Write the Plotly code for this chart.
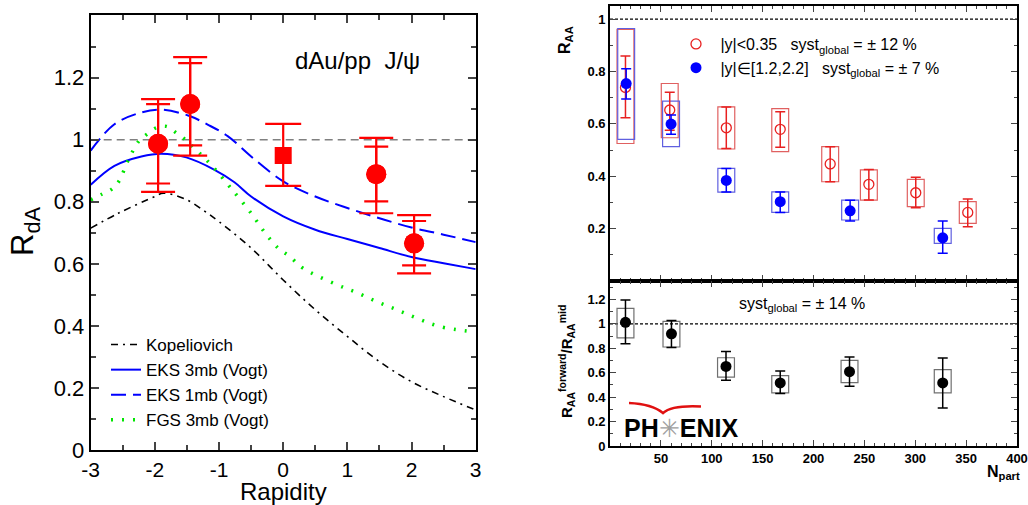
import plotly.graph_objects as go

W, H = 1028, 505
def px(x): return x / W
def py(y): return 1 - y / H

# ---------------- Left panel data (R_dA vs rapidity) ----------------
circ_y_pos = [-1.95, -1.45, 1.45, 2.04]
circ_rda = [0.987, 1.115, 0.889, 0.666]
circ_tot_hi = [1.131, 1.266, 1.006, 0.757]
circ_tot_lo = [0.832, 0.949, 0.763, 0.569]
circ_sta_hi = [1.115, 1.247, 0.978, 0.738]
circ_sta_lo = [0.859, 0.982, 0.801, 0.595]

sq_y_pos = [0.0]
sq_rda = [0.949]
sq_hi = [1.051]
sq_lo = [0.851]

kop_x = [-3, -2.57, -2.0, -1.87, -1.5, -1.22, -1.0, -0.5, 0, 0.5, 1, 1.5, 2, 2.5, 3]
kop_y = [0.715, 0.763, 0.817, 0.828, 0.806, 0.769, 0.736, 0.651, 0.548, 0.452, 0.366, 0.285, 0.220, 0.172, 0.129]

eks3_x = [-3, -2.63, -2.21, -1.9, -1.51, -1.07, -0.76, -0.5, 0, 0.5, 1, 1.5, 2, 2.5, 3]
eks3_y = [0.855, 0.916, 0.946, 0.955, 0.943, 0.903, 0.863, 0.817, 0.753, 0.710, 0.680, 0.651, 0.622, 0.602, 0.583]

eks1_x = [-3, -2.63, -2.21, -1.9, -1.48, -1.17, -0.86, -0.5, 0, 0.5, 1, 1.5, 2, 2.5, 3]
eks1_y = [0.965, 1.050, 1.088, 1.097, 1.078, 1.048, 1.011, 0.946, 0.866, 0.817, 0.780, 0.747, 0.717, 0.694, 0.670]

fgs_x = [-3, -2.82, -2.67, -2.56, -2.42, -2.24, -2.12, -1.98, -1.82, -1.68, -1.54, -1.41, -1.28,
         -1.16, -1.04, -0.8, -0.5, -0.28, -0.08, 0.1, 0.31, 0.81, 1.14, 1.46, 1.77, 2.08, 2.44, 3]
fgs_y = [0.806, 0.825, 0.841, 0.866, 0.932, 0.998, 1.018, 1.038, 1.043, 1.024, 1.003, 0.978, 0.952,
         0.927, 0.900, 0.840, 0.763, 0.699, 0.651, 0.624, 0.586, 0.535, 0.508, 0.478, 0.452, 0.425, 0.398, 0.380]

rap_ticks = [-3, -2, -1, 0, 1, 2, 3]
rap_tick_text = ["-3", "-2", "-1", "0", "1", "2", "3"]
rda_ticks = [0, 0.2, 0.4, 0.6, 0.8, 1.0, 1.2]

# ---------------- Right top panel data (R_AA vs Npart) ----------------
mid_npart = [15.2, 58.7, 114.3, 167.3, 216.4, 254.4, 300.5, 351.6]
mid_raa = [0.739, 0.653, 0.585, 0.579, 0.447, 0.369, 0.337, 0.262]
mid_err_hi = [0.859, 0.721, 0.664, 0.646, 0.513, 0.426, 0.396, 0.313]
mid_err_lo = [0.623, 0.576, 0.506, 0.511, 0.379, 0.309, 0.280, 0.207]
mid_sys_hi = [0.961, 0.754, 0.665, 0.658, 0.513, 0.424, 0.388, 0.303]
mid_sys_lo = [0.525, 0.547, 0.504, 0.494, 0.379, 0.309, 0.284, 0.220]

fwd_npart = [15.9, 60.0, 114.3, 167.3, 236.0, 327.0]
fwd_raa = [0.754, 0.599, 0.384, 0.303, 0.268, 0.165]
fwd_err_hi = [0.810, 0.634, 0.430, 0.340, 0.308, 0.229]
fwd_err_lo = [0.695, 0.560, 0.340, 0.262, 0.229, 0.106]
fwd_sys_hi = [0.964, 0.687, 0.430, 0.340, 0.309, 0.201]
fwd_sys_lo = [0.541, 0.513, 0.339, 0.262, 0.233, 0.144]

# ---------------- Right bottom panel data (ratio) ----------------
rat_npart = [15.2, 60.4, 114.0, 167.3, 235.4, 327.0]
rat_val = [1.012, 0.918, 0.651, 0.516, 0.608, 0.516]
rat_err_hi = [1.195, 1.026, 0.774, 0.613, 0.728, 0.719]
rat_err_lo = [0.836, 0.806, 0.537, 0.429, 0.489, 0.310]
rat_sys_hi = [1.126, 1.020, 0.722, 0.575, 0.700, 0.625]
rat_sys_lo = [0.885, 0.810, 0.564, 0.434, 0.518, 0.434]

npart_ticks = [50, 100, 150, 200, 250, 300, 350, 400]
raa_ticks = [0.2, 0.4, 0.6, 0.8, 1.0]
ratio_ticks = [0, 0.2, 0.4, 0.6, 0.8, 1.0, 1.2]

box_half = 8.3

RED = "#ff0000"
BLUE = "#0000ff"
GREEN = "#00e600"
FONT = "Liberation Sans, Arial, sans-serif"

fig = go.Figure()

# ---- left curves ----
fig.add_trace(go.Scatter(x=kop_x, y=kop_y, mode="lines", name="Kopeliovich",
                         line=dict(color="black", width=1.6, dash="7px,5px,2px,5px", shape="spline"),
                         xaxis="x", yaxis="y", legend="legend"))
fig.add_trace(go.Scatter(x=eks3_x, y=eks3_y, mode="lines", name="EKS 3mb (Vogt)",
                         line=dict(color=BLUE, width=2, shape="spline"),
                         xaxis="x", yaxis="y", legend="legend"))
fig.add_trace(go.Scatter(x=eks1_x, y=eks1_y, mode="lines", name="EKS 1mb (Vogt)",
                         line=dict(color=BLUE, width=2, dash="15px,7px", shape="spline"),
                         xaxis="x", yaxis="y", legend="legend"))
fig.add_trace(go.Scatter(x=fgs_x, y=fgs_y, mode="lines", name="FGS 3mb (Vogt)",
                         line=dict(color=GREEN, width=3.5, dash="2px,9px", shape="spline"),
                         xaxis="x", yaxis="y", legend="legend"))

# ---- left data points ----
fig.add_trace(go.Scatter(
    x=circ_y_pos, y=circ_rda, mode="markers", showlegend=False,
    marker=dict(symbol="circle", size=20, color=RED),
    error_y=dict(type="data", symmetric=False,
                 array=[h - v for h, v in zip(circ_tot_hi, circ_rda)],
                 arrayminus=[v - l for l, v in zip(circ_tot_lo, circ_rda)],
                 color=RED, thickness=2.2, width=17),
    xaxis="x", yaxis="y"))
fig.add_trace(go.Scatter(
    x=circ_y_pos, y=circ_rda, mode="markers", showlegend=False,
    marker=dict(symbol="circle", size=20, color=RED),
    error_y=dict(type="data", symmetric=False,
                 array=[h - v for h, v in zip(circ_sta_hi, circ_rda)],
                 arrayminus=[v - l for l, v in zip(circ_sta_lo, circ_rda)],
                 color=RED, thickness=2.2, width=12),
    xaxis="x", yaxis="y"))
fig.add_trace(go.Scatter(
    x=sq_y_pos, y=sq_rda, mode="markers", showlegend=False,
    marker=dict(symbol="square", size=17, color=RED),
    error_y=dict(type="data", symmetric=False,
                 array=[h - v for h, v in zip(sq_hi, sq_rda)],
                 arrayminus=[v - l for l, v in zip(sq_lo, sq_rda)],
                 color=RED, thickness=2.2, width=18),
    xaxis="x", yaxis="y"))

# ---- right top points ----
fig.add_trace(go.Scatter(
    x=mid_npart, y=mid_raa, mode="markers",
    name="\u00a0|y|<0.35   syst<sub>global</sub> = ± 12 %",
    marker=dict(symbol="circle-open", size=10, color="#e82020", line=dict(width=1.3)),
    error_y=dict(type="data", symmetric=False,
                 array=[h - v for h, v in zip(mid_err_hi, mid_raa)],
                 arrayminus=[v - l for l, v in zip(mid_err_lo, mid_raa)],
                 color="#e82020", thickness=1.5, width=5),
    xaxis="x2", yaxis="y2", legend="legend2"))
fig.add_trace(go.Scatter(
    x=fwd_npart, y=fwd_raa, mode="markers",
    name="\u00a0|y|∈[1.2,2.2]   syst<sub>global</sub> = ± 7 %",
    marker=dict(symbol="circle", size=11, color=BLUE),
    error_y=dict(type="data", symmetric=False,
                 array=[h - v for h, v in zip(fwd_err_hi, fwd_raa)],
                 arrayminus=[v - l for l, v in zip(fwd_err_lo, fwd_raa)],
                 color=BLUE, thickness=1.5, width=5),
    xaxis="x2", yaxis="y2", legend="legend2"))

# ---- right bottom points ----
fig.add_trace(go.Scatter(
    x=rat_npart, y=rat_val, mode="markers", showlegend=False,
    marker=dict(symbol="circle", size=11, color="black"),
    error_y=dict(type="data", symmetric=False,
                 array=[h - v for h, v in zip(rat_err_hi, rat_val)],
                 arrayminus=[v - l for l, v in zip(rat_err_lo, rat_val)],
                 color="black", thickness=1.5, width=5),
    xaxis="x3", yaxis="y3"))

shapes = []
# systematic boxes
for n, lo, hi in zip(mid_npart, mid_sys_lo, mid_sys_hi):
    shapes.append(dict(type="rect", xref="x2", yref="y2", x0=n - box_half, x1=n + box_half,
                       y0=lo, y1=hi, line=dict(color="#e06060", width=1.2), layer="below"))
for n, lo, hi in zip(fwd_npart, fwd_sys_lo, fwd_sys_hi):
    shapes.append(dict(type="rect", xref="x2", yref="y2", x0=n - box_half, x1=n + box_half,
                       y0=lo, y1=hi, line=dict(color="#6060e0", width=1.2), layer="below"))
for n, lo, hi in zip(rat_npart, rat_sys_lo, rat_sys_hi):
    shapes.append(dict(type="rect", xref="x3", yref="y3", x0=n - box_half, x1=n + box_half,
                       y0=lo, y1=hi, line=dict(color="#707070", width=1.2), layer="below"))
# unity lines
shapes.append(dict(type="line", xref="x domain", yref="y", x0=0, x1=1, y0=1, y1=1,
                   line=dict(color="#808080", width=1.6, dash="8px,5px"), layer="below"))
shapes.append(dict(type="line", xref="x2 domain", yref="y2", x0=0, x1=1, y0=1, y1=1,
                   line=dict(color="black", width=1.3, dash="3px,2px"), layer="below"))
shapes.append(dict(type="line", xref="x3 domain", yref="y3", x0=0, x1=1, y0=1, y1=1,
                   line=dict(color="black", width=1.3, dash="3px,2px"), layer="below"))
# PHENIX logo swoosh
shapes.append(dict(type="path", xref="paper", yref="paper",
                   path=f"M {px(629)},{py(403)} Q {px(652)},{py(404)} {px(663)},{py(413)} "
                        f"Q {px(672)},{py(405)} {px(701)},{py(406.5)}",
                   line=dict(color="#e01010", width=2.5)))

axis_common = dict(showline=True, linecolor="black", mirror="ticks", ticks="inside",
                   showgrid=False, zeroline=False, automargin=False)

fig.update_layout(
    width=W, height=H, margin=dict(l=0, r=0, t=0, b=0, autoexpand=False),
    paper_bgcolor="white", plot_bgcolor="white",
    font=dict(family=FONT, color="black"),
    xaxis=dict(domain=[px(90.7), px(475.7)], range=[-3, 3], anchor="y",
               tickvals=rap_ticks, ticktext=rap_tick_text, ticklen=8, tickwidth=2, linewidth=2,
               minor=dict(ticks="inside", dtick=0.5, ticklen=5, tickwidth=2, tick0=0),
               tickfont=dict(size=21), **axis_common),
    yaxis=dict(domain=[py(450), py(15)], range=[0, 1.402], anchor="x",
               tickvals=rda_ticks, ticklen=8, tickwidth=2, linewidth=2,
               minor=dict(ticks="inside", dtick=0.1, ticklen=5, tickwidth=2, tick0=0),
               tickfont=dict(size=22), **axis_common),
    xaxis2=dict(domain=[px(610), px(1017)], range=[0, 400], anchor="y2",
                tickvals=npart_ticks, showticklabels=False,
                ticklen=6, tickwidth=1.3, linewidth=1.6,
                minor=dict(ticks="inside", dtick=10, ticklen=3, tickwidth=1, tick0=0),
                **axis_common),
    yaxis2=dict(domain=[py(281), py(6)], range=[0, 1.05], anchor="x2",
                tickvals=raa_ticks, ticklen=6, tickwidth=1.3, linewidth=1.6,
                minor=dict(ticks="inside", dtick=0.1, ticklen=3, tickwidth=1, tick0=0),
                tickfont=dict(size=13, weight="bold"), **axis_common),
    xaxis3=dict(domain=[px(610), px(1017)], range=[0, 400], anchor="y3",
                tickvals=npart_ticks,
                ticklen=6, tickwidth=1.3, linewidth=1.6,
                minor=dict(ticks="inside", dtick=10, ticklen=3, tickwidth=1, tick0=0),
                tickfont=dict(size=13, weight="bold"), **axis_common),
    yaxis3=dict(domain=[py(446), py(281)], range=[0, 1.35], anchor="x3",
                tickvals=ratio_ticks, ticklen=6, tickwidth=1.3, linewidth=1.6,
                minor=dict(ticks="inside", dtick=0.1, ticklen=3, tickwidth=1, tick0=0),
                tickfont=dict(size=13, weight="bold"), **axis_common),
    legend=dict(x=px(106), y=py(327), xanchor="left", yanchor="top",
                bgcolor="rgba(0,0,0,0)", font=dict(size=17), tracegroupgap=0),
    legend2=dict(x=px(676), y=py(27), xanchor="left", yanchor="top",
                 bgcolor="rgba(0,0,0,0)", font=dict(size=16), tracegroupgap=0),
    shapes=shapes,
)

ann = [
    dict(text="dAu/pp\u00a0\u00a0J/ψ", x=px(357), y=py(60), font=dict(size=24)),
    dict(text="Rapidity", x=px(283), y=py(491), font=dict(size=24)),
    dict(text="R<sub>dA</sub>", x=px(25), y=py(232), font=dict(size=31), textangle=-90),
    dict(text="<b>R<sub>AA</sub></b>", x=px(566), y=py(40), font=dict(size=16), textangle=-90),
    dict(text="<b>R<sub>AA</sub><sup>forward</sup>/R<sub>AA</sub><sup>mid</sup></b>",
         x=px(566), y=py(362), font=dict(size=15), textangle=-90),
    dict(text="<b>N<sub>part</sub></b>", x=px(1022), y=py(472), xanchor="right", font=dict(size=16)),
    dict(text="syst<sub>global</sub> = ± 14 %", x=px(737), y=py(304), xanchor="left", font=dict(size=16)),
    dict(text="<b>PH</b><span style='color:#a0a0a0'>✳</span><b>ENIX</b>",
         x=px(622), y=py(428), xanchor="left", font=dict(size=25)),
]
for a in ann:
    a.setdefault("xanchor", "center")
    a.update(xref="paper", yref="paper", showarrow=False, yanchor="middle")
    fig.add_annotation(**a)

fig.write_html("out.html", config={"displayModeBar": False},
               post_script="document.body.style.margin='0';document.body.style.padding='0';"
                           "document.documentElement.style.overflow='hidden';")
